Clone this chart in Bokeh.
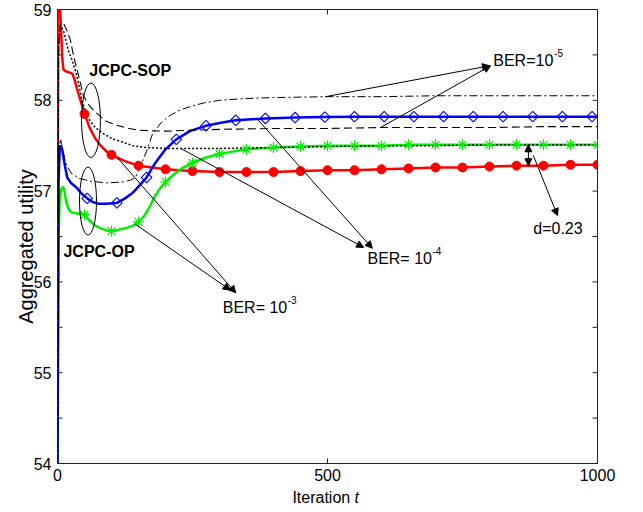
import numpy as np
from bokeh.plotting import figure
from bokeh.layouts import column, row
from bokeh.models import Range1d, FixedTicker, Label, Arrow, NormalHead
from bokeh.embed import file_html
from bokeh.resources import INLINE
from bokeh.core.properties import value

# ---- series: iteration index vs. aggregated utility ----
# JCPC-SOP, BER = 1e-3 (red, circles every 50 iterations)
red_t = [0, 1, 3, 5, 7, 9, 11, 15, 20, 25, 28, 32, 37, 43, 50, 55, 60, 70, 80, 90, 100,
         110, 125, 150, 175, 200, 225, 250, 300, 350, 400, 450, 500, 550, 600, 650, 700,
         750, 800, 850, 900, 950, 1000]
red_y = [54.0, 59.6, 59.3, 59.0, 58.72, 58.45, 58.34, 58.32, 58.31, 58.30, 58.29, 58.22,
         58.11, 57.99, 57.85, 57.77, 57.69, 57.58, 57.50, 57.44, 57.40, 57.37, 57.33, 57.28,
         57.26, 57.24, 57.23, 57.22, 57.21, 57.21, 57.21, 57.22, 57.23, 57.23, 57.24, 57.25,
         57.26, 57.26, 57.27, 57.28, 57.28, 57.29, 57.29]

# JCPC-OP, BER = 1e-3 (green, asterisks every 50 iterations)
green_t = [0, 2, 4, 7, 10, 13, 16, 20, 25, 30, 40, 50, 60, 70, 80, 90, 100, 110, 125, 140,
           150, 160, 170, 180, 190, 200, 215, 230, 250, 275, 300, 350, 400, 450, 500, 550,
           600, 650, 700, 750, 800, 850, 900, 950, 1000]
green_y = [54.0, 56.5, 56.9, 57.02, 57.05, 57.0, 56.88, 56.81, 56.77, 56.76, 56.75, 56.74,
           56.67, 56.62, 56.59, 56.57, 56.56, 56.57, 56.59, 56.62, 56.66, 56.72, 56.82, 56.94,
           57.03, 57.10, 57.18, 57.25, 57.31, 57.37, 57.41, 57.46, 57.48, 57.49, 57.50, 57.50,
           57.50, 57.51, 57.51, 57.51, 57.51, 57.51, 57.51, 57.51, 57.51]

# JCPC-OP, BER = 1e-4 (blue, diamonds every 55 iterations)
blue_t = [0, 2, 4, 6, 9, 13, 18, 25, 35, 45, 55, 65, 76, 90, 110, 125, 139, 150, 165, 181,
          200, 220, 245, 275, 300, 330, 385, 440, 495, 550, 605, 660, 715, 770, 825, 880,
          935, 990, 1000]
blue_y = [54.0, 57.1, 57.45, 57.5, 57.45, 57.3, 57.15, 57.09, 57.04, 56.97, 56.92, 56.88,
          56.86, 56.86, 56.87, 56.92, 56.98, 57.05, 57.15, 57.31, 57.46, 57.57, 57.66, 57.72,
          57.75, 57.78, 57.80, 57.81, 57.815, 57.82, 57.82, 57.82, 57.82, 57.82, 57.82, 57.82,
          57.82, 57.82, 57.82]

# JCPC-SOP, BER = 1e-5 (black dashed)
dash_t = [0, 2, 5, 11, 18, 24, 28, 33, 40, 48, 58, 67, 76, 90, 107, 125, 150, 200, 250, 300,
          400, 500, 600, 700, 800, 900, 1000]
dash_y = [54.0, 58.5, 58.84, 58.85, 58.76, 58.66, 58.54, 58.41, 58.25, 58.05, 57.95, 57.89,
          57.84, 57.77, 57.73, 57.70, 57.67, 57.66, 57.67, 57.68, 57.69, 57.69, 57.70, 57.70,
          57.70, 57.71, 57.71]

# JCPC-SOP, BER = 1e-4 (black dotted)
dot_t = [0, 2, 5, 11, 20, 27, 33, 39, 46, 57, 70, 83, 100, 120, 140, 163, 200, 300, 400, 500,
         600, 700, 800, 900, 1000]
dot_y = [54.0, 58.6, 58.82, 58.77, 58.55, 58.44, 58.33, 58.19, 57.98, 57.80, 57.70, 57.64,
         57.58, 57.54, 57.50, 57.48, 57.47, 57.47, 57.48, 57.49, 57.50, 57.50, 57.51, 57.51,
         57.51]

# JCPC-OP, BER = 1e-5 (black dash-dot)
dd_t = [0, 2, 4, 6, 10, 15, 25, 40, 60, 90, 120, 135, 144, 150, 157, 165, 176, 190, 205, 222,
        240, 270, 300, 350, 400, 500, 600, 700, 800, 900, 1000]
dd_y = [54.0, 57.3, 57.52, 57.56, 57.45, 57.31, 57.2, 57.14, 57.11, 57.09, 57.10, 57.12,
        57.15, 57.22, 57.32, 57.44, 57.63, 57.74, 57.82, 57.88, 57.92, 57.97, 58.0, 58.02,
        58.03, 58.04, 58.04, 58.05, 58.05, 58.05, 58.05]

x_ticks = [0, 500, 1000]
y_ticks = [54, 55, 56, 57, 58, 59]
y_tick_labels = ["54", "55", "56", "57", "58", "59"]
y_minor = [54.5, 55.5, 56.5, 57.5, 58.5]
Y0, Y1 = 54, 59

FONT = "Liberation Sans"
AX = "#222222"
TOTAL_W, TOTAL_H = 643, 512
STRIP_W = 52                      # left column: y tick labels and rotated title
BORDER_L, BORDER_R, BORDER_T, BORDER_B = 5, 46, 9, 24
W, H = TOTAL_W - STRIP_W, 487
FRAME_W = W - BORDER_L - BORDER_R
FRAME_H = H - BORDER_T - BORDER_B
TICK = 5

p = figure(width=W, height=H, x_range=Range1d(0, 1000), y_range=Range1d(Y0, Y1),
           output_backend="svg", toolbar_location=None,
           min_border_left=BORDER_L, min_border_right=BORDER_R,
           min_border_top=BORDER_T, min_border_bottom=BORDER_B)
p.background_fill_color = "white"
p.border_fill_color = "white"
p.outline_line_color = AX
p.xgrid.visible = False
p.ygrid.visible = False
p.yaxis.visible = False

ax = p.xaxis[0]
ax.ticker = FixedTicker(ticks=x_ticks)
ax.major_tick_in = TICK
ax.major_tick_out = 0
ax.minor_tick_in = 0
ax.minor_tick_out = 0
ax.axis_line_color = AX
ax.major_tick_line_color = AX
ax.major_label_text_font = FONT
ax.major_label_text_color = "black"
ax.major_label_text_font_size = "16px"
ax.major_label_standoff = 5

# inward tick marks on the top, left and right edges of the box
dx = TICK * 1000 / FRAME_W
dy = TICK * (Y1 - Y0) / FRAME_H
ry_all = y_ticks + y_minor
n = len(ry_all)
p.segment(x0=x_ticks, y0=[Y1] * len(x_ticks), x1=x_ticks, y1=[Y1 - dy] * len(x_ticks),
          line_color=AX, line_width=1)
p.segment(x0=[1000] * n, y0=ry_all, x1=[1000 - dx] * n, y1=ry_all, line_color=AX, line_width=1)
p.segment(x0=[0] * n, y0=ry_all, x1=[dx] * n, y1=ry_all, line_color=AX, line_width=1)

# ---- curves ----
p.line(red_t, red_y, line_color="#ff0000", line_width=2.5)
p.line(green_t, green_y, line_color="#00ee00", line_width=2.5)
p.line(blue_t, blue_y, line_color="#0000ff", line_width=2.5)
p.line(dash_t, dash_y, line_color="black", line_width=1.1, line_dash="8 4")
p.line(dot_t, dot_y, line_color="black", line_width=1.5, line_dash="2 2")
p.line(dd_t, dd_y, line_color="black", line_width=1.0, line_dash="8 3 2 3")

# ---- markers ----
rt, ry = np.array(red_t), np.array(red_y)
m = (rt > 0) & (rt % 50 == 0)
p.scatter(rt[m], ry[m], marker="circle", size=9, fill_color="#ff0000", line_color="#ff0000")

gt, gy = np.array(green_t), np.array(green_y)
m = (gt > 0) & (gt % 50 == 0)
p.scatter(gt[m], gy[m], marker="asterisk", size=11, line_color="#00ee00", line_width=1.2)

bt, by = np.array(blue_t), np.array(blue_y)
m = (bt > 0) & (bt % 55 == 0)
p.scatter(bt[m], by[m], marker="square", angle=np.pi / 4, size=7.5, fill_color=None,
          line_color="#0000ff", line_width=1.1)

# ---- group ellipses ----
p.ellipse(x=[62], y=[57.78], width=[35], height=[0.82], fill_color=None,
          line_color="black", line_width=1)
p.ellipse(x=[56.5], y=[56.89], width=[31.5], height=[0.75], fill_color=None,
          line_color="black", line_width=1)


def text(x, y, s, size="16px", style="normal", align="left", xo=0, yo=0):
    p.add_layout(Label(x=x, y=y, text=s, x_offset=xo, y_offset=yo,
                       text_font=FONT, text_font_size=size,
                       text_font_style=style, text_align=align,
                       text_baseline="middle", text_color="black"))


def arrow(x0, y0, x1, y1, both=False):
    head = lambda: NormalHead(size=7, fill_color="black", line_color="black", line_width=1)
    p.add_layout(Arrow(x_start=x0, y_start=y0, x_end=x1, y_end=y1,
                       end=head(), start=head() if both else None,
                       line_color="black", line_width=1))


def on(ts, ys, t):
    return float(np.interp(t, ts, ys))


text(59, 58.33, "JCPC-SOP", style="bold")
text(11, 56.34, "JCPC-OP", style="bold")

# BER = 1e-5 : dash-dot and dashed
text(807, 58.44, "BER=10")
text(807, 58.44, "-5", size="10px", xo=61, yo=7)
arrow(496, on(dd_t, dd_y, 496), 800, 58.38)
arrow(598, on(dash_t, dash_y, 598), 802, 58.38)

# BER = 1e-4 : blue and dotted
text(574, 56.26, "BER= 10")
text(574, 56.26, "-4", size="10px", xo=65, yo=7)
arrow(370, on(blue_t, blue_y, 370), 583, 56.37)
arrow(228, on(dot_t, dot_y, 228), 567, 56.38)

# BER = 1e-3 : red and green
text(306, 55.72, "BER= 10")
text(306, 55.72, "-3", size="10px", xo=65, yo=7)
arrow(111, on(red_t, red_y, 111), 330, 55.88)
arrow(144, on(green_t, green_y, 144), 320, 55.91)

# gap between the BER = 1e-4 dotted/green plateau and the red curve
d_t = 872
g_hi = on(green_t, green_y, d_t)
g_lo = on(red_t, red_y, d_t)
arrow(d_t, g_hi, d_t, g_lo, both=True)
arrow(881, (g_hi + g_lo) / 2, 926, 56.73)
text(881, 56.59, "d=%.2f" % (g_hi - g_lo))


def blank(fig):
    fig.outline_line_color = None
    fig.xgrid.visible = False
    fig.ygrid.visible = False
    fig.background_fill_color = "white"
    fig.border_fill_color = "white"


# ---- x-axis title strip ("Iteration" + italic t) ----
cap = figure(width=W, height=TOTAL_H - H, x_range=p.x_range, y_range=Range1d(0, 1),
             x_axis_type=None, y_axis_type=None, output_backend="svg",
             toolbar_location=None, min_border_left=BORDER_L, min_border_right=BORDER_R,
             min_border_top=0, min_border_bottom=0)
blank(cap)
cap.text(x=[435], y=[0.6], text=["Iteration"], text_font=value(FONT),
         text_font_size="16px", text_baseline="middle", text_color="black")
cap.text(x=[435], y=[0.6], text=["t"], x_offset=62, text_font=value(FONT),
         text_font_size="16px", text_font_style="italic", text_baseline="middle",
         text_color="black")

# ---- left strip: y tick labels share the plot's vertical scale ----
per_px = (Y1 - Y0) / FRAME_H
side = figure(width=STRIP_W, height=H, x_range=Range1d(0, STRIP_W),
              y_range=Range1d(Y0 - BORDER_B * per_px, Y1 + BORDER_T * per_px),
              x_axis_type=None, y_axis_type=None, output_backend="svg",
              toolbar_location=None, min_border=0)
blank(side)
side.text(x=[STRIP_W - 1] * len(y_ticks), y=y_ticks, text=y_tick_labels,
          text_font=value(FONT), text_font_size="16px", text_align="right",
          text_baseline="middle", text_color="black")
side.text(x=[25], y=[Y1 - (246 - BORDER_T) * per_px], text=["Aggregated utility"],
          angle=np.pi / 2, text_font=value(FONT), text_font_size="20px",
          text_align="center", text_baseline="middle", text_color="black")

open("out.html", "w").write(file_html(row(side, column(p, cap)), INLINE))
